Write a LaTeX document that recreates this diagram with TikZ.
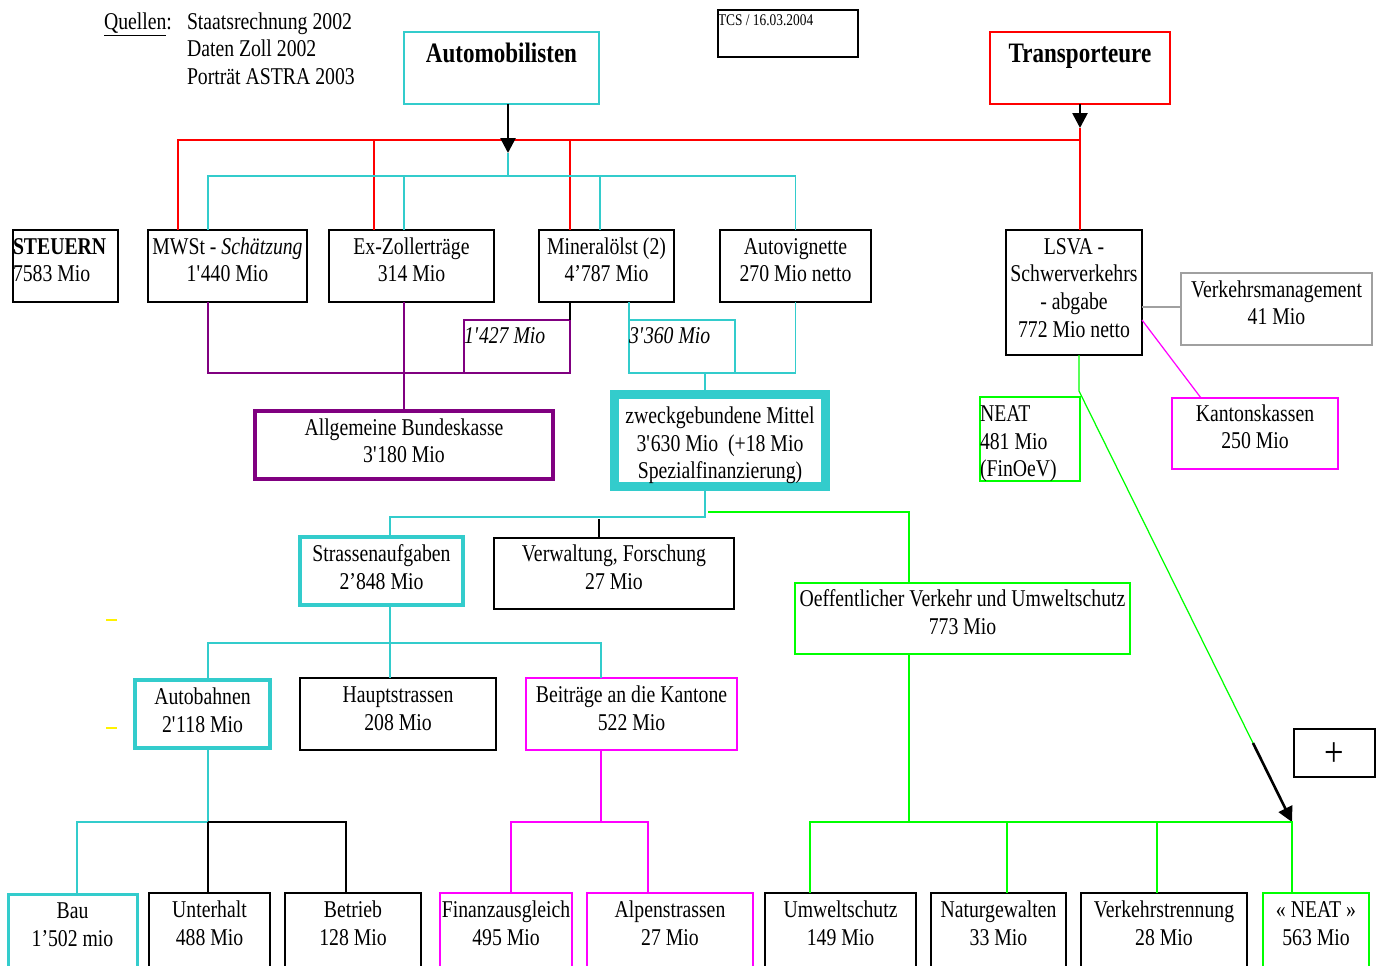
\documentclass[tikz,border=0pt]{standalone}
\usepackage{fontspec}
\setmainfont{Liberation Serif}[FakeStretch=0.82]
\usetikzlibrary{arrows.meta}

\definecolor{tcscyan}{RGB}{51,204,204}
\definecolor{tcspurple}{RGB}{128,0,128}
\definecolor{tcsgreen}{RGB}{0,255,0}
\definecolor{tcsmagenta}{RGB}{255,0,255}
\definecolor{tcsred}{RGB}{255,0,0}
\definecolor{tcsgray}{RGB}{160,160,160}

\newlength\pxu
\setlength\pxu{0.02cm}
\newcommand{\sqt}{\textquotesingle}
\def\tbrise{24}
\def\tbalign{\centering}

\tikzset{
  tb/.style 2 args={inner sep=0pt, outer sep=0pt, anchor=north west,
    execute at begin node={\begin{minipage}[c][#2\pxu][t]{#1\pxu}\tbalign\rule{0pt}{\tbrise\pxu}},
    execute at end node={\end{minipage}}},
  textrise/.code={\def\tbrise{#1}},
  leftalign/.code={\def\tbalign{\raggedright}},
  boxline/.style={draw=#1, line width=0.9pt}, boxline/.default=black,
  link/.style={draw=#1, line width=0.7pt}, link/.default=black,
  arr/.style={-{Triangle[length=8.5pt,width=8.5pt]}, line width=1.5pt}
}

\begin{document}
\fontsize{13.7pt}{15.93pt}\selectfont
\begin{tikzpicture}[x=0.02cm, y=-0.02cm]
\useasboundingbox (0,0) rectangle (1380,965);
\clip (0,0) rectangle (1380,965);

% sources and headers
\node[tb={80}{30}, leftalign] (qlabel) at (104,5) {\underline{Quellen}:};
\node[tb={200}{90}, leftalign] (qlist) at (187,5) {Staatsrechnung 2002\\Daten Zoll 2002\\Porträt ASTRA 2003};
\node[tb={195}{72}, boxline=tcscyan, textrise=30] (auto) at (404,32) {\fontsize{16pt}{19pt}\selectfont\bfseries Automobilisten};
\node[tb={140}{47}, boxline, textrise=15, leftalign] (tcs) at (718,10) {\fontsize{9.3pt}{11pt}\selectfont TCS / 16.03.2004};
\node[tb={180}{72}, boxline=tcsred, textrise=30] (trans) at (990,32) {\fontsize{16pt}{19pt}\selectfont\bfseries Transporteure};

% revenues
\node[tb={105}{72}, boxline, leftalign] (steuern) at (13,230) {\textbf{STEUERN}\\7583 Mio};
\node[tb={159}{72}, boxline] (mwst) at (148,230) {MWSt - \textit{Schätzung}\\1\sqt440 Mio};
\node[tb={165}{72}, boxline] (exzoll) at (329,230) {Ex-Zollerträge\\314 Mio};
\node[tb={135}{72}, boxline] (minoel) at (539,230) {Mineralölst (2)\\4’787 Mio};
\node[tb={151}{72}, boxline] (vignette) at (720,230) {Autovignette\\270 Mio netto};
\node[tb={136}{125}, boxline] (lsva) at (1006,230) {LSVA -\\Schwerverkehrs\\- abgabe\\772 Mio netto};
\node[tb={191}{72}, boxline=tcsgray] (vm) at (1181,273) {Verkehrsmanagement\\41 Mio};
\node[tb={166}{71}, boxline=tcsmagenta, textrise=23] (kk) at (1172,398) {Kantonskassen\\250 Mio};
\node[tb={100}{84}, boxline=tcsgreen, leftalign] (neat1) at (980,397) {NEAT\\481 Mio\\(FinOeV)};
\node[tb={106}{53}, boxline=tcspurple, textrise=23, leftalign] (p1427) at (464,320) {\textit{1\sqt427 Mio}};
\node[tb={106}{53}, boxline=tcscyan, textrise=23, leftalign] (p3360) at (629,320) {\textit{3\sqt360 Mio}};

% funds
\node[tb={298}{68}, boxline=tcspurple, line width=4\pxu] (abk) at (255,411) {Allgemeine Bundeskasse\\3\sqt180 Mio};
\node[tb={211}{92}, boxline=tcscyan, line width=9\pxu, textrise=29] (zweck) at (614.5,394) {zweckgebundene Mittel\\3\sqt630 Mio~~(+18 Mio\\Spezialfinanzierung)};
\node[tb={163}{68}, boxline=tcscyan, line width=4\pxu] (strass) at (300,537) {Strassenaufgaben\\2’848 Mio};
\node[tb={240}{71}, boxline, textrise=23] (verw) at (494,538) {Verwaltung, Forschung\\27 Mio};
\node[tb={335}{71}, boxline=tcsgreen, textrise=23] (oev) at (795,583) {Oeffentlicher Verkehr und Umweltschutz\\773 Mio};
\node[tb={135}{68}, boxline=tcscyan, line width=4\pxu] (autob) at (135,680) {Autobahnen\\2\sqt118 Mio};
\node[tb={196}{72}, boxline] (haupt) at (300,678) {Hauptstrassen\\208 Mio};
\node[tb={211}{72}, boxline=tcsmagenta] (beitr) at (526,678) {Beiträge an die Kantone\\522 Mio};

% bottom row
\node[tb={129}{100}, boxline=tcscyan, line width=3\pxu] (bau) at (8,894.5) {Bau\\1’502 mio};
\node[tb={121}{100}, boxline] (unter) at (149,893) {Unterhalt\\488 Mio};
\node[tb={136}{100}, boxline] (betrieb) at (285,893) {Betrieb\\128 Mio};
\node[tb={132}{100}, boxline=tcsmagenta] (finanz) at (440,893) {Finanzausgleich\\495 Mio};
\node[tb={166}{100}, boxline=tcsmagenta] (alpen) at (587,893) {Alpenstrassen\\27 Mio};
\node[tb={151}{100}, boxline] (umwelt) at (765,893) {Umweltschutz\\149 Mio};
\node[tb={135}{100}, boxline] (natur) at (931,893) {Naturgewalten\\33 Mio};
\node[tb={166}{100}, boxline] (vtrenn) at (1081,893) {Verkehrstrennung\\28 Mio};
\node[tb={106}{100}, boxline=tcsgreen] (neat2) at (1263,893) {« NEAT »\\563 Mio};
\node[tb={81}{48}, boxline, textrise=37] (plus) at (1294,729) {\fontsize{24pt}{26pt}\selectfont +};

% junctions
\coordinate (autotip) at (508,153);
\coordinate (transtip) at (1080,128);
\coordinate (rbus) at (1080,140);
\coordinate (cbus) at (508,176);
\coordinate (zbus) at (705,517);
\coordinate (gbus) at (708,512);
\coordinate (vtop) at (599,519);
\coordinate (sbus) at (390,643);
\coordinate (abus) at (208,822);
\coordinate (mbus) at (601,822);
\coordinate (obus) at (909,822);
\coordinate (neattip) at (1292,822);
\coordinate (neatbend) at (1079,391);
\coordinate (arrstart) at (1253,743);

% top level
\draw[link=tcsred] (178,0 |- mwst.north) |- (rbus);
\draw[link=tcsred] (374,0 |- exzoll.north) -- (374,0 |- rbus);
\draw[link=tcsred] (570,0 |- minoel.north) -- (570,0 |- rbus);
\draw[link=tcsred] (transtip) -- (lsva.north -| transtip);
\draw[link=tcscyan] (208,0 |- mwst.north) |- (cbus -| vignette.north) -- (vignette.north);
\draw[link=tcscyan] (404,0 |- exzoll.north) -- (404,0 |- cbus);
\draw[link=tcscyan] (600,0 |- minoel.north) -- (600,0 |- cbus);
\draw[link=tcscyan] (autotip) -- (cbus);
\draw[arr] (auto.south -| autotip) -- (autotip);
\draw[arr] (trans.south -| transtip) -- (transtip);

% split of revenues
\draw[link=tcspurple] (208,0 |- mwst.south) |- (p1427.south west);
\draw[link=tcspurple] (exzoll.south -| abk.north) -- (abk.north);
\draw[link] (p1427.north east |- minoel.south) -- (p1427.north east);
\draw[link=tcscyan] (p3360.north west |- minoel.south) -- (p3360.north west);
\draw[link=tcscyan] (vignette.south) |- (p3360.south east);
\draw[link=tcscyan] (705,0 |- p3360.south) -- (705,0 |- zweck.north);
\draw[link=tcsgray] (lsva.east |- 0,307) -- (vm.west |- 0,307);
\draw[link=tcsmagenta] (lsva.east |- 0,320) -- (1201,0 |- kk.north);
\draw[link=tcsgreen] (neatbend |- lsva.south) -- (neatbend) -- (neattip);
\draw[arr] (arrstart) -- (neattip);

% earmarked funds
\draw[link=tcscyan] (zweck.south -| zbus) |- (390,0 |- zbus) -- (390,0 |- strass.north);
\draw[link=tcsgreen] (gbus) -| (909,0 |- oev.north);
\draw[link] (vtop) -- (vtop |- verw.north);
\draw[link=tcscyan] (strass.south -| sbus) -- (haupt.north -| sbus);
\draw[link=tcscyan] (208,0 |- autob.north) |- (601,0 |- sbus) -- (601,0 |- beitr.north);

% bottom level
\draw[link=tcscyan] (autob.south -| abus) -- (abus);
\draw[link=tcscyan] (abus) -| (77,0 |- bau.north);
\draw[link] (abus) -- (abus |- unter.north);
\draw[link] (abus) -| (346,0 |- betrieb.north);
\draw[link=tcsmagenta] (beitr.south -| mbus) -- (mbus);
\draw[link=tcsmagenta] (511,0 |- finanz.north) |- (mbus) -| (648,0 |- alpen.north);
\draw[link=tcsgreen] (oev.south -| obus) -- (obus);
\draw[link=tcsgreen] (810,0 |- umwelt.north) |- (neattip) -- (neattip |- neat2.north);
\draw[link=tcsgreen] (1007,0 |- obus) -- (1007,0 |- natur.north);
\draw[link=tcsgreen] (1157,0 |- obus) -- (1157,0 |- vtrenn.north);

% yellow marks
\draw[yellow, line width=1.5pt] (106,620) -- (117,620);
\draw[yellow, line width=1.5pt] (106,728) -- (117,728);
\end{tikzpicture}
\end{document}
